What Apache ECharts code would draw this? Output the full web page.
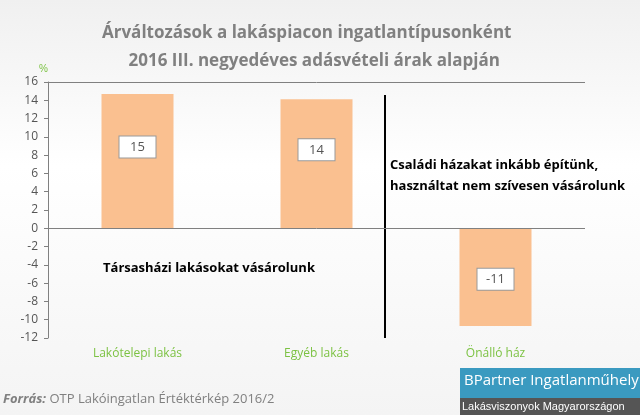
<!DOCTYPE html>
<html>
<head>
<meta charset="utf-8">
<script src="https://cdn.jsdelivr.net/npm/echarts@6/dist/echarts.min.js"></script>
<style>
  html, body { margin: 0; padding: 0; }
  #chart { width: 640px; height: 415px; background: linear-gradient(#f0f0f0, #ffffff 40%, #f4f4f4); }
</style>
</head>
<body>
<div id="chart"></div>
<script>
var categories = ['Lakótelepi lakás', 'Egyéb lakás', 'Önálló ház'];
var values = [14.7, 14.1, -10.7];
var labels = ['15', '14', '-11'];

var chart = echarts.init(document.getElementById('chart'));
var green = '#7cc243';

var data = values.map(function (v) {
  return { value: v, label: { offset: [0, v > 0 ? -14 : 2] } };
});

var option = {
  animation: false,
  grid: { left: 48, right: 55, top: 82, bottom: 77 },
  title: {
    text: 'Árváltozások a lakáspiacon ingatlantípusonként\n      2016 III. negyedéves adásvételi árak alapján',
    left: 97, top: 14,
    textStyle: { fontFamily: 'Open Sans', fontSize: 17, fontWeight: 'bold', color: '#808080', lineHeight: 28 }
  },
  xAxis: {
    type: 'category',
    data: categories,
    axisLine: { show: false },
    axisTick: { show: false },
    axisLabel: { color: green, fontFamily: 'Open Sans', fontSize: 12, margin: 10 }
  },
  yAxis: {
    type: 'value',
    min: -12, max: 16, interval: 2,
    name: '%', nameGap: 8,
    nameTextStyle: { color: green, fontSize: 10, align: 'right' },
    axisLine: { show: true, lineStyle: { color: '#808080' } },
    axisTick: { show: true, length: 4, lineStyle: { color: '#808080' } },
    axisLabel: { color: '#555', fontFamily: 'Open Sans', fontSize: 12, margin: 10 },
    splitLine: { show: false }
  },
  series: [{
    type: 'bar',
    data: data,
    barWidth: 72,
    itemStyle: { color: '#fac090' },
    label: {
      show: true, position: 'inside',
      formatter: function (p) { return labels[p.dataIndex]; },
      color: '#555', fontSize: 13, fontFamily: 'Open Sans',
      backgroundColor: '#fff', borderColor: '#999', borderWidth: 1,
      padding: [4, 7], width: 22, align: 'center'
    },
    markLine: {
      silent: true, symbol: 'none', label: { show: false },
      lineStyle: { color: '#808080', type: 'solid', width: 1 },
      data: [{ yAxis: 16 }, { yAxis: 0 }]
    }
  }],
  graphic: [
    { type: 'line', shape: { x1: 385, y1: 95, x2: 385, y2: 338 }, style: { stroke: '#000', lineWidth: 2 } },
    { type: 'text', left: 390, top: 155, style: { text: 'Családi házakat inkább építünk,\nhasználtat nem szívesen vásárolunk', font: 'bold 13px "Open Sans"', fill: '#000', lineHeight: 21 } },
    { type: 'text', left: 103, top: 262, style: { text: 'Társasházi lakásokat vásárolunk', font: 'bold 13px "Open Sans"', fill: '#000' } },
    { type: 'text', left: 3, top: 393, style: { text: '{b|Forrás:} OTP Lakóingatlan Értéktérkép 2016/2', font: '13px "Open Sans"', fill: '#808080', rich: { b: { fontWeight: 'bold', fontStyle: 'italic', fontSize: 13, fontFamily: 'Open Sans', color: '#808080' } } } },
    { type: 'rect', shape: { x: 460, y: 368, width: 180, height: 30 }, style: { fill: '#3a9ac0' } },
    { type: 'rect', shape: { x: 460, y: 398, width: 180, height: 17 }, style: { fill: '#555' } },
    { type: 'text', left: 464, top: 373, style: { text: 'BPartner Ingatlanműhely', font: '15px "Open Sans"', fill: '#fff' } },
    { type: 'text', left: 462, top: 401, style: { text: 'Lakásviszonyok Magyarországon', font: '11px "Liberation Sans"', fill: '#fff' } }
  ]
};
chart.setOption(option);
</script>
</body>
</html>
